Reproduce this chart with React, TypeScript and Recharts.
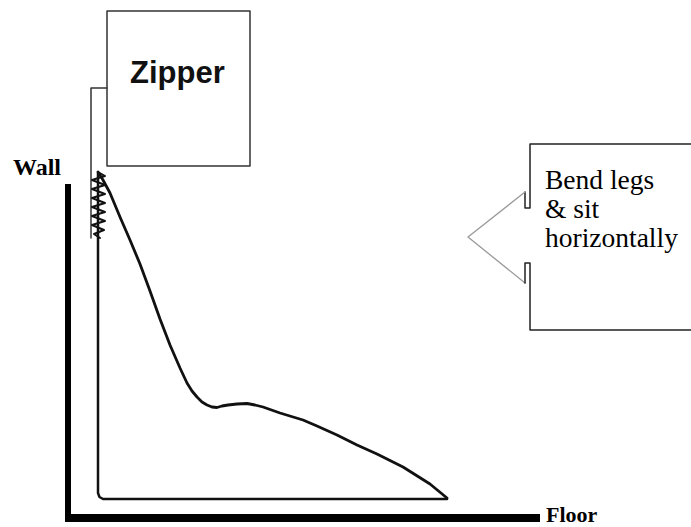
import React from "react";
import { ComposedChart, Line, XAxis, YAxis, Customized } from "recharts";

type P = { x: number; y: number };

// Diagram coordinates (x to the right, y downward)
const outerWall: P[] = [
  { x: 68, y: 184 },
  { x: 68, y: 518 },
];
const outerFloor: P[] = [
  { x: 65, y: 518 },
  { x: 540, y: 518 },
];
const innerWall: P[] = [
  { x: 98, y: 173 },
  { x: 98, y: 493 },
  { x: 99.5, y: 497 },
  { x: 103, y: 499 },
  { x: 447, y: 499 },
];
const zipperCord: P[] = [
  { x: 107, y: 88 },
  { x: 91, y: 88 },
  { x: 91, y: 238 },
];
const zipperBox: P[] = [
  { x: 107, y: 11 },
  { x: 250, y: 11 },
  { x: 250, y: 166 },
  { x: 107, y: 166 },
  { x: 107, y: 11 },
];
const spring: P[] = [
  { x: 98, y: 172 }, { x: 105, y: 176 }, { x: 92, y: 180 }, { x: 105, y: 185 },
  { x: 92, y: 189 }, { x: 105, y: 194 }, { x: 92, y: 198 }, { x: 105, y: 203 },
  { x: 92, y: 207 }, { x: 105, y: 212 }, { x: 92, y: 216 }, { x: 105, y: 221 },
  { x: 92, y: 225 }, { x: 104, y: 230 }, { x: 94, y: 234 }, { x: 100, y: 238 },
];
const bodyCurve: P[] = [
  { x: 98, y: 172 }, { x: 103, y: 180 }, { x: 110, y: 193 }, { x: 120, y: 217 },
  { x: 130, y: 240 }, { x: 140, y: 264 }, { x: 150, y: 291 }, { x: 160, y: 319 },
  { x: 170, y: 345 }, { x: 180, y: 368 }, { x: 187, y: 383 }, { x: 192, y: 391 },
  { x: 197, y: 397 }, { x: 202, y: 402 }, { x: 207, y: 405 }, { x: 212, y: 407 },
  { x: 217, y: 407.5 }, { x: 222, y: 406 }, { x: 228, y: 405 }, { x: 237, y: 404 },
  { x: 247, y: 403.5 }, { x: 255, y: 405 }, { x: 263, y: 407 }, { x: 280, y: 413 },
  { x: 303, y: 420 }, { x: 317, y: 426 }, { x: 337, y: 435 }, { x: 357, y: 445 },
  { x: 377, y: 454 }, { x: 403, y: 467 }, { x: 430, y: 484 }, { x: 447, y: 498 },
];
const bendBoxTop: P[] = [
  { x: 691, y: 144 }, { x: 530, y: 144 }, { x: 530, y: 208 },
  { x: 525, y: 208 }, { x: 525, y: 192 },
];
const arrowHead: P[] = [
  { x: 525, y: 192 }, { x: 468, y: 237 }, { x: 525, y: 283 },
];
const bendBoxBottom: P[] = [
  { x: 525, y: 283 }, { x: 525, y: 263 }, { x: 530, y: 263 },
  { x: 530, y: 330 }, { x: 691, y: 330 },
];

const bendLines = ["Bend legs", "& sit", "horizontally"];

const Texts = () => (
  <g>
    <text x={13} y={175} fontFamily="Liberation Serif, Times New Roman, serif" fontWeight="bold" fontSize={24} fill="#000">Wall</text>
    <text x={546} y={522} fontFamily="Liberation Serif, Times New Roman, serif" fontWeight="bold" fontSize={22} fill="#000">Floor</text>
    <text x={130} y={83} fontFamily="Liberation Sans, Arial, sans-serif" fontWeight="bold" fontSize={31} fill="#111">Zipper</text>
    {bendLines.map((t, i) => (
      <text key={t} x={545} y={189 + i * 29} fontFamily="Liberation Serif, Times New Roman, serif" fontSize={27.5} fill="#000">{t}</text>
    ))}
  </g>
);

const seg = (data: P[], stroke: string, width: number, key: string, cap: "round" | "butt" = "round") => (
  <Line
    key={key}
    data={data}
    dataKey="y"
    type="linear"
    stroke={stroke}
    strokeWidth={width}
    dot={false}
    activeDot={false}
    isAnimationActive={false}
    strokeLinejoin="round"
    strokeLinecap={cap}
    legendType="none"
  />
);

export default function App() {
  return (
    <div style={{ position: "absolute", left: 0, top: 0, width: 691, height: 527, background: "#fff" }}>
      <ComposedChart width={691} height={527} margin={{ top: 0, right: 0, bottom: 0, left: 0 }}>
        <XAxis type="number" dataKey="x" domain={[0, 691]} hide allowDataOverflow />
        <YAxis type="number" domain={[0, 527]} reversed hide allowDataOverflow />
        {seg(outerWall, "#000", 6, "ow", "butt")}
        {seg(outerFloor, "#000", 8, "of", "butt")}
        {seg(innerWall, "#111", 2.5, "iw")}
        {seg(zipperCord, "#333", 1.5, "zc")}
        {seg(zipperBox, "#333", 1.5, "zb")}
        {seg(spring, "#111", 2, "sp")}
        {seg(bodyCurve, "#111", 2.8, "bc")}
        {seg(bendBoxTop, "#222", 1.5, "bt")}
        {seg(arrowHead, "#999", 1.3, "ah")}
        {seg(bendBoxBottom, "#222", 1.5, "bb")}
        <Customized component={Texts} />
      </ComposedChart>
    </div>
  );
}
